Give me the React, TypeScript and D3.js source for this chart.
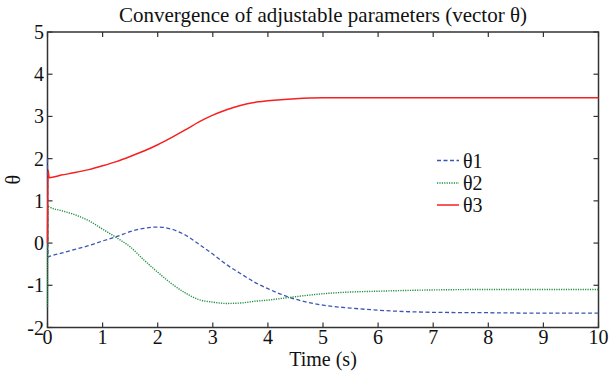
import React from "react";
import * as d3 from "d3";

const time = [0, 0.01, 0.03, 0.25, 0.5, 0.75, 1, 1.25, 1.5, 1.75, 2, 2.25, 2.5, 2.75, 3, 3.25, 3.5, 3.75, 4, 4.5, 5, 5.5, 6, 7, 8, 9, 10];
const theta1 = [2.0, -0.33, -0.32, -0.24, -0.15, -0.06, 0.05, 0.15, 0.27, 0.35, 0.38, 0.33, 0.19, -0.03, -0.26, -0.51, -0.72, -0.92, -1.08, -1.33, -1.47, -1.54, -1.59, -1.64, -1.65, -1.66, -1.66];
const theta2 = [-1.5, 0.88, 0.86, 0.77, 0.67, 0.53, 0.33, 0.13, -0.09, -0.4, -0.69, -0.96, -1.18, -1.34, -1.4, -1.43, -1.42, -1.38, -1.35, -1.27, -1.2, -1.16, -1.14, -1.11, -1.1, -1.1, -1.1];
const theta3 = [0, 1.73, 1.55, 1.61, 1.67, 1.74, 1.83, 1.93, 2.05, 2.18, 2.33, 2.5, 2.68, 2.87, 3.03, 3.16, 3.26, 3.33, 3.37, 3.42, 3.44, 3.44, 3.44, 3.44, 3.44, 3.44, 3.44];

const xTicks = [0, 1, 2, 3, 4, 5, 6, 7, 8, 9, 10];
const yTicks = [-2, -1, 0, 1, 2, 3, 4, 5];
const seriesNames = ["θ1", "θ2", "θ3"];
const title = "Convergence of adjustable parameters (vector θ)";
const xLabel = "Time (s)";
const yLabel = "θ";

const W = 612, H = 373;
const L = 47.5, R = 598.5, T = 32, B = 327.5;
const FONT = "'Liberation Serif', 'Times New Roman', serif";

const styles = [
  { color: "#3a55b4", dash: "4,2.5", width: 1.3 },
  { color: "#1f8f3f", dash: "1.2,1.2", width: 1.4 },
  { color: "#f52020", dash: "", width: 1.5 },
];

export default function App() {
  const x = d3.scaleLinear().domain([0, 10]).range([L, R]);
  const y = d3.scaleLinear().domain([-2, 5]).range([B, T]);
  const line = d3
    .line<[number, number]>()
    .x((d) => x(d[0]))
    .y((d) => y(d[1]))
    .curve(d3.curveMonotoneX);
  const data = [theta1, theta2, theta3].map((vals) => vals.map((v, i) => [time[i], v] as [number, number]));
  const tk = 5;
  const axisColor = "#333";
  const legX = 437, legY = [160.5, 183, 205];

  return (
    <svg width={W} height={H} style={{ position: "absolute", left: 0, top: 0, background: "#fff" }} fontFamily={FONT}>
      <rect x={0} y={0} width={W} height={H} fill="#fff" />
      {xTicks.map((t) => (
        <g key={"xt" + t}>
          <line x1={x(t)} x2={x(t)} y1={B} y2={B - tk} stroke={axisColor} strokeWidth={1.2} />
          <line x1={x(t)} x2={x(t)} y1={T} y2={T + tk} stroke={axisColor} strokeWidth={1.2} />
          <text x={x(t)} y={344} textAnchor="middle" fontSize={20} fill="#111">{t}</text>
        </g>
      ))}
      {yTicks.map((t) => (
        <g key={"yt" + t}>
          <line x1={L} x2={L + tk} y1={y(t)} y2={y(t)} stroke={axisColor} strokeWidth={1.2} />
          <line x1={R} x2={R - tk} y1={y(t)} y2={y(t)} stroke={axisColor} strokeWidth={1.2} />
          <text x={44} y={y(t)} dy="0.35em" textAnchor="end" fontSize={20} fill="#111">{t}</text>
        </g>
      ))}
      <rect x={L} y={T} width={R - L} height={B - T} fill="none" stroke={axisColor} strokeWidth={1.5} />
      {data.map((d, i) => (
        <path key={"s" + i} d={line(d) || ""} fill="none" stroke={styles[i].color} strokeWidth={styles[i].width} strokeDasharray={styles[i].dash || undefined} />
      ))}
      {seriesNames.map((n, i) => (
        <g key={"lg" + i}>
          <line x1={legX} x2={legX + 22} y1={legY[i]} y2={legY[i]} stroke={styles[i].color} strokeWidth={styles[i].width} strokeDasharray={styles[i].dash || undefined} />
          <text x={legX + 26} y={legY[i]} dy="0.35em" fontSize={20} fill="#111">{n}</text>
        </g>
      ))}
      <text x={(L + R) / 2} y={22} textAnchor="middle" fontSize={21} fill="#111">{title}</text>
      <text x={(L + R) / 2} y={366} textAnchor="middle" fontSize={20} fill="#111">{xLabel}</text>
      <text transform={`translate(20,${(T + B) / 2}) rotate(-90)`} textAnchor="middle" fontSize={20} fill="#111">{yLabel}</text>
    </svg>
  );
}
